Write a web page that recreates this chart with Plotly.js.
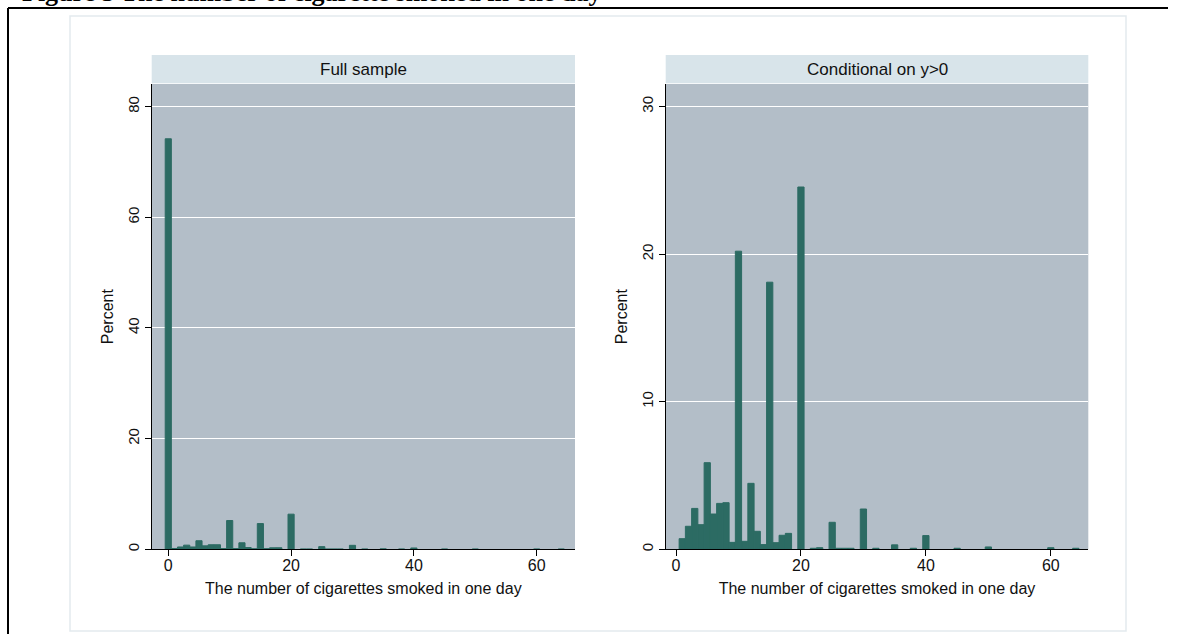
<!DOCTYPE html>
<html>
<head>
<meta charset="utf-8">
<script src="https://cdn.plot.ly/plotly-3.0.1.min.js"></script>
<style>html,body{margin:0;padding:0;background:#fff;}#chart{width:1179px;height:634px;}</style>
</head>
<body>
<div id="chart"></div>
<script>
// ---- data ----
const fullX = [0,1,2,3,4,5,6,7,8,9,10,11,12,13,14,15,16,17,18,20,22,23,25,26,27,28,30,32,35,38,40,45,50,60,64];
const fullY = [74.2,0.15,0.42,0.75,0.42,1.55,0.62,0.82,0.82,0.13,5.2,0.14,1.18,0.32,0.1,4.65,0.12,0.27,0.28,6.35,0.05,0.05,0.48,0.05,0.05,0.05,0.72,0.05,0.08,0.05,0.24,0.05,0.05,0.05,0.05];
const condX = [1,2,3,4,5,6,7,8,9,10,11,12,13,14,15,16,17,18,20,22,23,25,26,27,28,30,32,35,38,40,45,50,60,64];
const condY = [0.72,1.56,2.77,1.67,5.87,2.39,3.11,3.16,0.47,20.2,0.54,4.47,1.22,0.32,18.1,0.45,0.95,1.08,24.55,0.07,0.11,1.83,0.07,0.07,0.07,2.73,0.07,0.3,0.07,0.93,0.07,0.16,0.11,0.07];
const panelTitles = ["Full sample", "Conditional on y>0"];
const xTicks = [0,20,40,60];
const yTicksFull = [0,20,40,60,80];
const yTicksCond = [0,10,20,30];
const xTitle = "The number of cigarettes smoked in one day";
const yTitle = "Percent";
const figTitle = "Figure 3 The number of cigarette smoked in one day";

// ---- layout geometry (pixels) ----
const W = 1179, H = 634;
const px = v => v / W;
const py = v => 1 - v / H;
const L1 = [151.7, 575], L2 = [665.7, 1088.3];
const plotTop = 84, plotBot = 549.3, stripTop = 55, stripBot = 83.3;

const barColor = '#2c6b63';
const font = 'Liberation Sans, Arial, sans-serif';

const traces = [
  {type:'bar', x: fullX, y: fullY, xaxis:'x', yaxis:'y', width: 1,
   marker:{color: barColor, line:{color: barColor, width: 1}}, hoverinfo:'x+y'},
  {type:'bar', x: condX, y: condY, xaxis:'x2', yaxis:'y2', width: 1,
   marker:{color: barColor, line:{color: barColor, width: 1}}, hoverinfo:'x+y'}
];

const xCommon = {
  tickmode:'array', tickvals: xTicks, ticks:'outside', ticklen: 6, tickwidth: 1, tickcolor:'#000',
  showline:true, linecolor:'#000', linewidth:1, showgrid:false, zeroline:false,
  ticklabelstandoff: -5,
  tickfont:{family:font, size:16, color:'#111'},
  title:{text: xTitle, font:{family:font, size:16, color:'#111'}, standoff: 10}
};
const yCommon = {
  ticks:'outside', ticklen: 6, tickwidth: 1, tickcolor:'#000', tickangle: -90,
  showline:true, linecolor:'#000', linewidth:1, showgrid:true, gridcolor:'#ffffff', gridwidth:1,
  zeroline:false, tickmode:'array',
  tickfont:{family:font, size:15, color:'#111'},
  title:{text: yTitle, font:{family:font, size:16, color:'#111'}, standoff: 7}
};

const layout = {
  width: W, height: H,
  margin:{l:0, r:0, t:0, b:0},
  paper_bgcolor:'#ffffff', plot_bgcolor:'#b3bec8',
  showlegend:false, bargap:0,
  xaxis: Object.assign({}, xCommon, {domain:[px(L1[0]), px(L1[1])], range:[-2.70, 66.24], anchor:'y'}),
  yaxis: Object.assign({}, yCommon, {domain:[py(plotBot), py(plotTop)], range:[0, 84.1], tickvals: yTicksFull, anchor:'x'}),
  xaxis2: Object.assign({}, xCommon, {domain:[px(L2[0]), px(L2[1])], range:[-1.65, 66.0], anchor:'y2'}),
  yaxis2: Object.assign({}, yCommon, {domain:[py(plotBot), py(plotTop)], range:[0, 31.53], tickvals: yTicksCond, anchor:'x2'}),
  shapes: [
    {type:'rect', xref:'paper', yref:'paper', x0:px(70), x1:px(1126), y0:py(631), y1:py(16),
     line:{color:'#e3eaee', width:1.5}, fillcolor:'rgba(0,0,0,0)', layer:'below'},
    {type:'rect', xref:'paper', yref:'paper', x0:px(L1[0]), x1:px(L1[1]), y0:py(stripBot), y1:py(stripTop),
     line:{width:0}, fillcolor:'#d8e4ea', layer:'below'},
    {type:'rect', xref:'paper', yref:'paper', x0:px(L2[0]), x1:px(L2[1]), y0:py(stripBot), y1:py(stripTop),
     line:{width:0}, fillcolor:'#d8e4ea', layer:'below'},
    {type:'line', xref:'paper', yref:'paper', x0:px(8), x1:px(1168), y0:py(8), y1:py(8), line:{color:'#000', width:2}},
    {type:'line', xref:'paper', yref:'paper', x0:px(8), x1:px(8), y0:py(8), y1:py(640), line:{color:'#000', width:2}}
  ],
  annotations: [
    {xref:'paper', yref:'paper', x:(px(L1[0])+px(L1[1]))/2, y:py((stripTop+stripBot)/2), text: panelTitles[0],
     showarrow:false, xanchor:'center', yanchor:'middle', font:{family:font, size:17, color:'#111'}},
    {xref:'paper', yref:'paper', x:(px(L2[0])+px(L2[1]))/2, y:py((stripTop+stripBot)/2), text: panelTitles[1],
     showarrow:false, xanchor:'center', yanchor:'middle', font:{family:font, size:17, color:'#111'}},
    {xref:'paper', yref:'paper', x:px(20), y:py(9), text:'<b>'+figTitle+'</b>', showarrow:false,
     xanchor:'left', yanchor:'bottom', font:{family:'Liberation Serif, Times New Roman, serif', size:26, color:'#000'}}
  ]
};

Plotly.newPlot('chart', traces, layout, {displayModeBar:false, staticPlot:true});
</script>
</body>
</html>
